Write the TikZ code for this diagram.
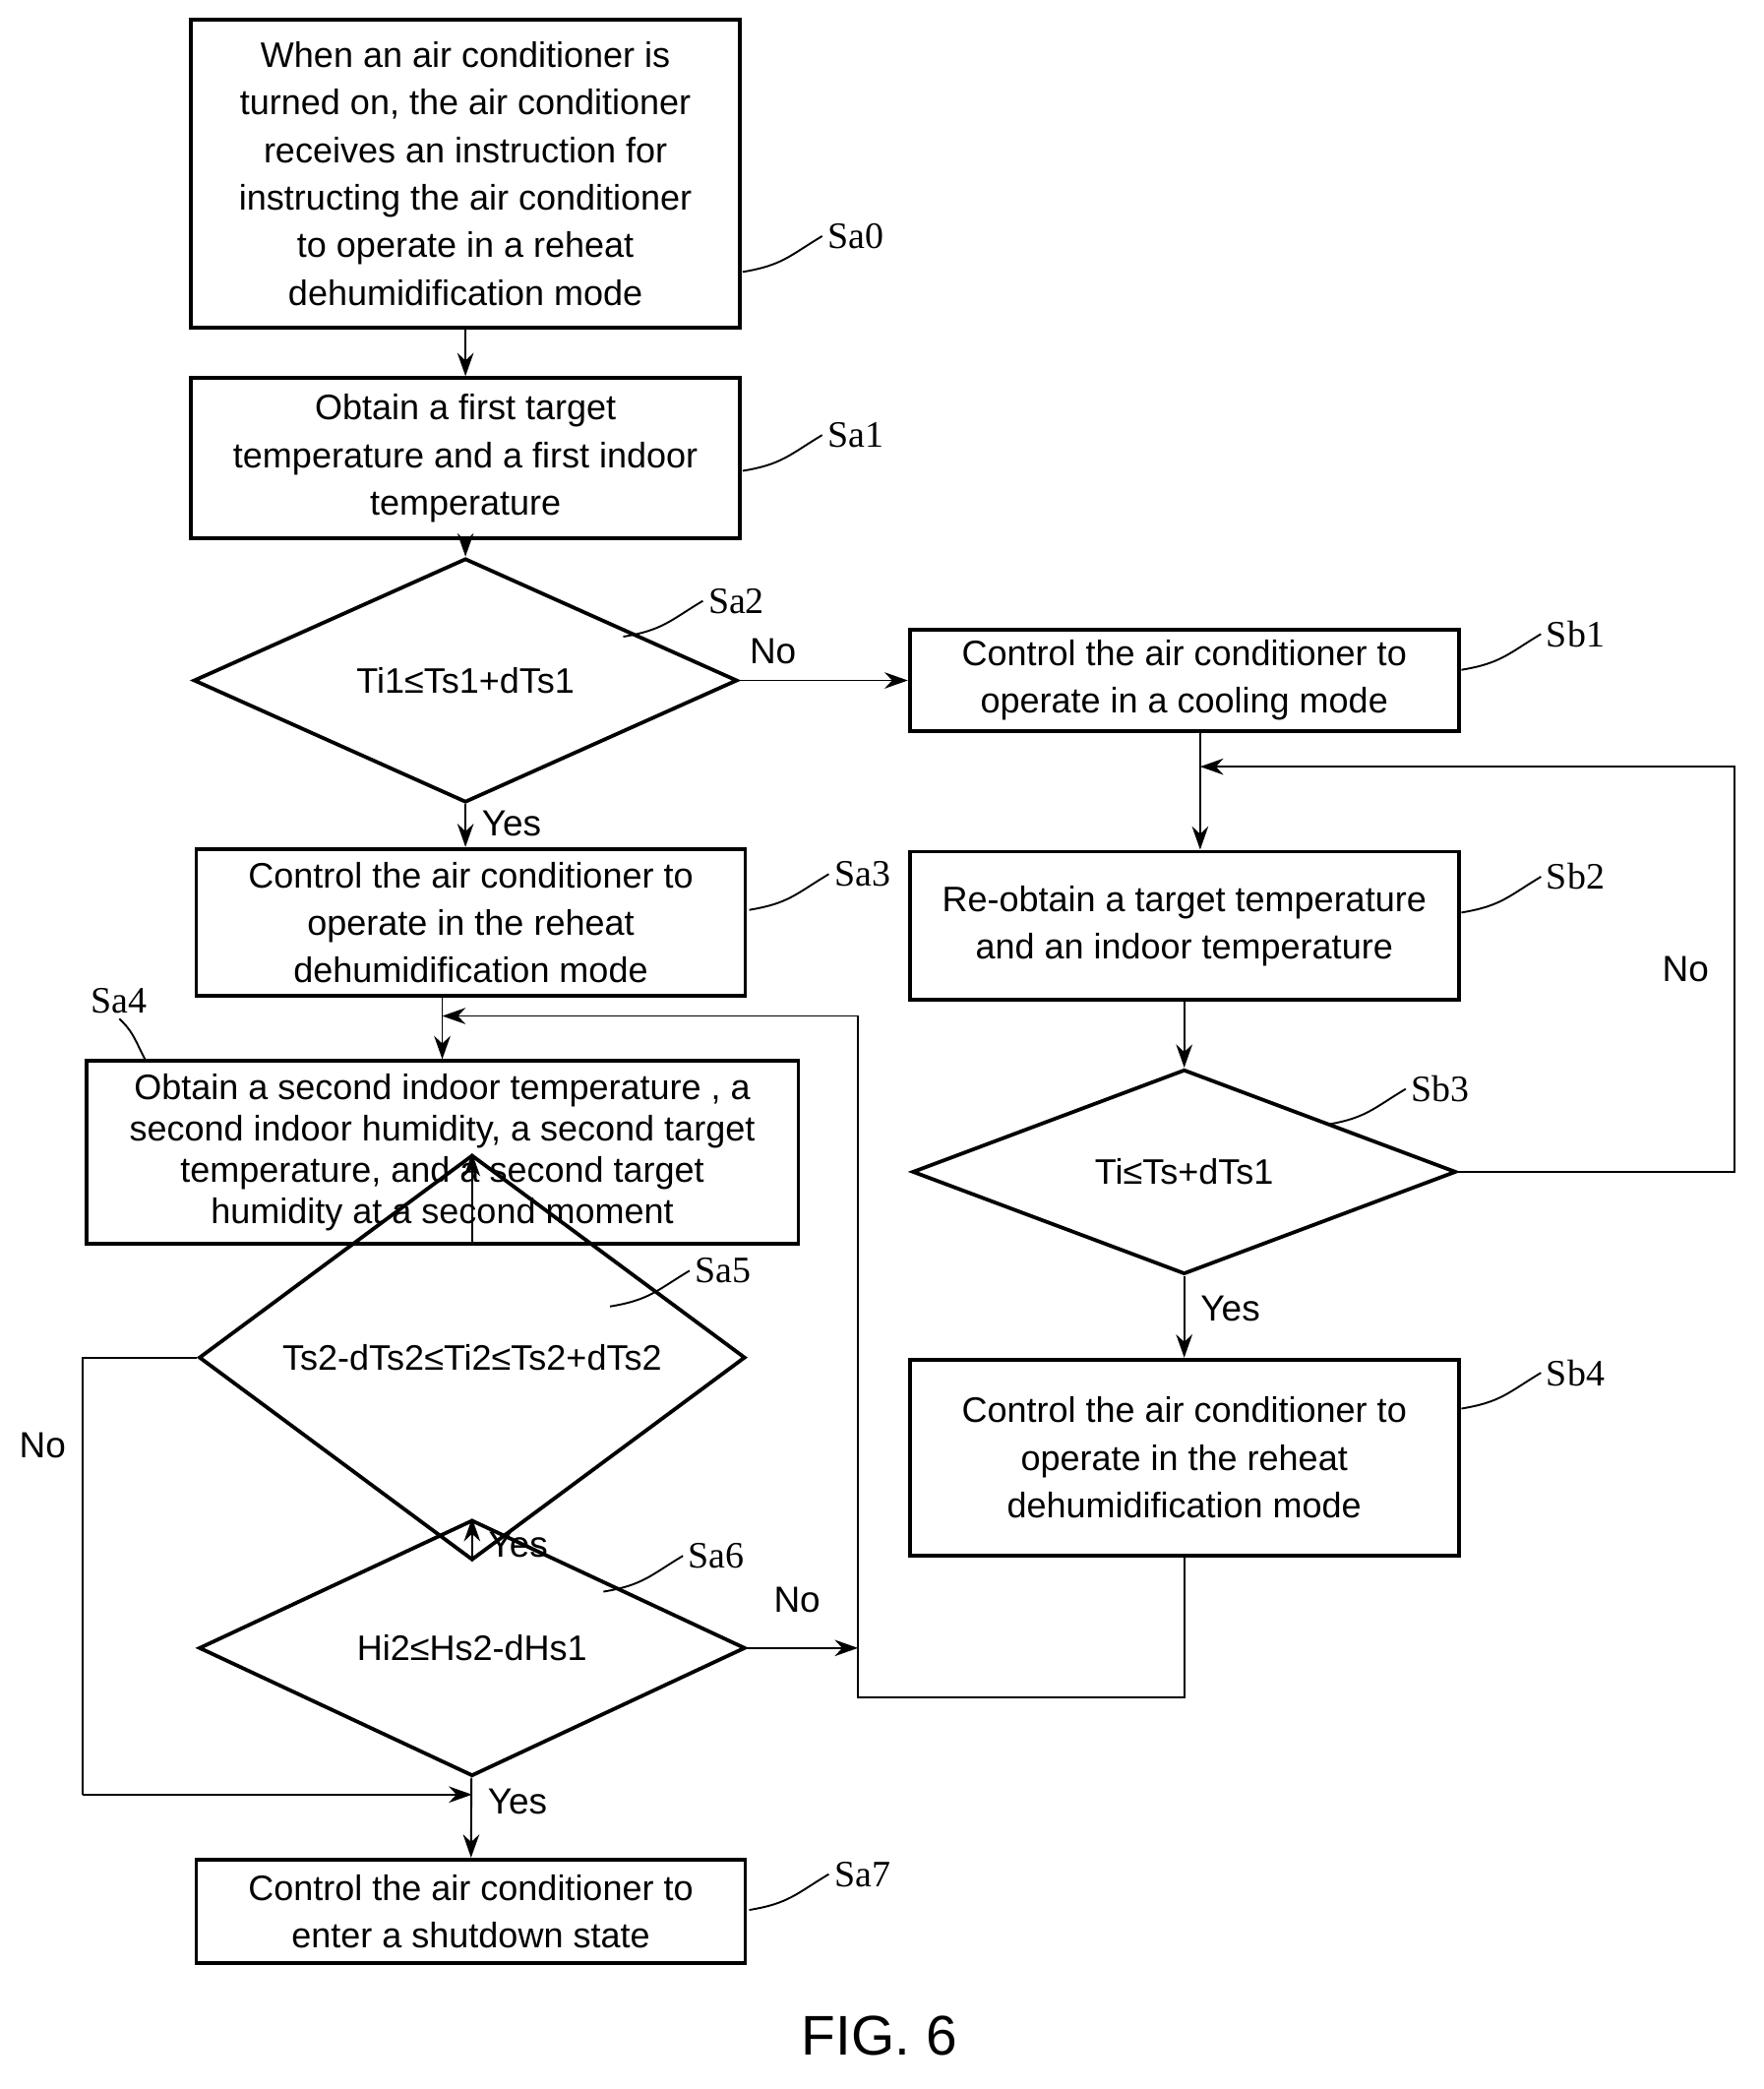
\documentclass[tikz,border=0pt]{standalone}
\usepackage{fontspec}
\setmainfont{Liberation Sans}
\newfontfamily\labfont{Liberation Serif}
\usetikzlibrary{shapes.geometric,arrows.meta}

% step label with a curved leader line
\newcommand{\steplab}[3]{\draw[thin] (#1,#2) .. controls +(0.3,0.05) and +(-0.25,-0.15) .. ++(0.6,0.27) node[right,inner sep=1pt,font=\labfont\fontsize{8}{9}\selectfont]{#3};}

\begin{document}
\begin{tikzpicture}[>={Stealth[length=5pt,width=3.5pt]},
    box/.style={draw,thick,align=center,inner sep=2pt,font=\fontsize{7.6}{10.2}\selectfont},
    decision/.style={draw,thick,diamond,inner sep=0pt,align=center,font=\fontsize{7.6}{10.2}\selectfont},
    lab/.style={font=\fontsize{7.8}{9}\selectfont},
    every path/.style={thin}]
  \useasboundingbox (0,0) rectangle (13.30,-15.75);
  % left column
  \node[box,minimum width=4.14cm,minimum height=2.32cm] (sa0) at (3.51,-1.31)
    {When an air conditioner is\\turned on, the air conditioner\\receives an instruction for\\instructing the air conditioner\\to operate in a reheat\\dehumidification mode};
  \node[box,minimum width=4.14cm,minimum height=1.21cm] (sa1) at (3.51,-3.455)
    {Obtain a first target\\temperature and a first indoor\\temperature};
  \node[decision,minimum width=4.10cm,minimum height=1.47cm] (sa2) at (3.51,-5.13) {Ti1≤Ts1+dTs1};
  \node[box,minimum width=4.14cm,minimum height=1.11cm] (sa3) at (3.55,-6.955)
    {Control the air conditioner to\\operate in the reheat\\dehumidification mode};
  \node[box,minimum width=5.37cm,minimum height=1.38cm,font=\fontsize{7.6}{8.9}\selectfont] (sa4) at (3.335,-8.69)
    {Obtain a second indoor temperature , a\\second indoor humidity, a second target\\temperature, and a second target\\humidity at a second moment};
  \node[decision,minimum width=4.12cm,minimum height=1.47cm] (sa5) at (3.56,-10.235) {Ts2-dTs2≤Ti2≤Ts2+dTs2};
  \node[decision,minimum width=4.12cm,minimum height=1.45cm] (sa6) at (3.56,-12.425) {Hi2≤Hs2-dHs1};
  \node[box,minimum width=4.14cm,minimum height=0.78cm] (sa7) at (3.55,-14.41)
    {Control the air conditioner to\\enter a shutdown state};
  % right column
  \node[box,minimum width=4.14cm,minimum height=0.76cm] (sb1) at (8.93,-5.13)
    {Control the air conditioner to\\operate in a cooling mode};
  \node[box,minimum width=4.14cm,minimum height=1.12cm] (sb2) at (8.93,-6.98)
    {Re-obtain a target temperature\\and an indoor temperature};
  \node[decision,minimum width=4.10cm,minimum height=1.47cm] (sb3) at (8.93,-8.835) {Ti≤Ts+dTs1};
  \node[box,minimum width=4.14cm,minimum height=1.48cm] (sb4) at (8.93,-10.99)
    {Control the air conditioner to\\operate in the reheat\\dehumidification mode};
  \coordinate (loopr) at (13.08,-8.835);
  \coordinate (loopt) at (9.05,-5.78);
  \coordinate (backb) at (6.47,-12.80);
  \coordinate (backt) at (6.47,-7.66);
  \coordinate (noL) at (0.62,-13.53);
  % connectors
  \draw[->] (sa0) -- (sa1);
  \draw[->] (sa1) -- (sa2);
  \draw[->] (sa2) -- node[lab,right,pos=0.45]{Yes} (sa2 |- sa3.north);
  \draw[->] (sa2.east) -- node[lab,above,pos=0.2]{No} (sb1.west);
  \draw[->] (sb1.south -| loopt) -- (sb2.north -| loopt);
  \draw[->] (sb2) -- (sb3);
  \draw[->] (sb3) -- node[lab,right,pos=0.4]{Yes} (sb4);
  \draw[->] (sb3.east) -- (loopr) |- node[lab,pos=0.25,left,xshift=-2pt]{No} (loopt);
  \draw[->] (sb4.south) |- (backb) -- (backt) -- (sa4.north |- backt);
  \draw[->] (sa3.south -| sa4.north) -- (sa4.north);
  \draw[->] (sa4.south -| sa5.north) -- (sa5.north);
  \draw[->] (sa5) -- node[lab,right,pos=0.4]{Yes} (sa6);
  \draw[->] (sa6) -- node[lab,right,pos=0.3]{Yes} (sa7);
  \draw[->] (sa6.east) -- node[lab,above,pos=0.45,yshift=4pt]{No} (sa6.east -| backb);
  \draw (sa5.west) -| node[lab,pos=0.6,left]{No} (noL);
  \draw[->] (noL) -- (sa6.south |- noL);
  % step labels
  \steplab{5.60}{-2.05}{Sa0}
  \steplab{5.60}{-3.55}{Sa1}
  \steplab{4.70}{-4.80}{Sa2}
  \steplab{5.65}{-6.86}{Sa3}
  \steplab{4.60}{-9.85}{Sa5}
  \steplab{4.55}{-12.00}{Sa6}
  \steplab{5.65}{-14.40}{Sa7}
  \steplab{11.02}{-5.05}{Sb1}
  \steplab{11.02}{-6.88}{Sb2}
  \steplab{10.00}{-8.48}{Sb3}
  \steplab{11.02}{-10.62}{Sb4}
  \draw[thin] (1.10,-8.00) .. controls +(-0.1,0.2) and +(0.1,-0.1) .. (0.90,-7.68) node[above,inner sep=1pt,font=\labfont\fontsize{8}{9}\selectfont]{Sa4};
  \node[font=\fontsize{12}{14}\selectfont] (fig) at (6.63,-15.35) {FIG. 6};
\end{tikzpicture}
\end{document}
